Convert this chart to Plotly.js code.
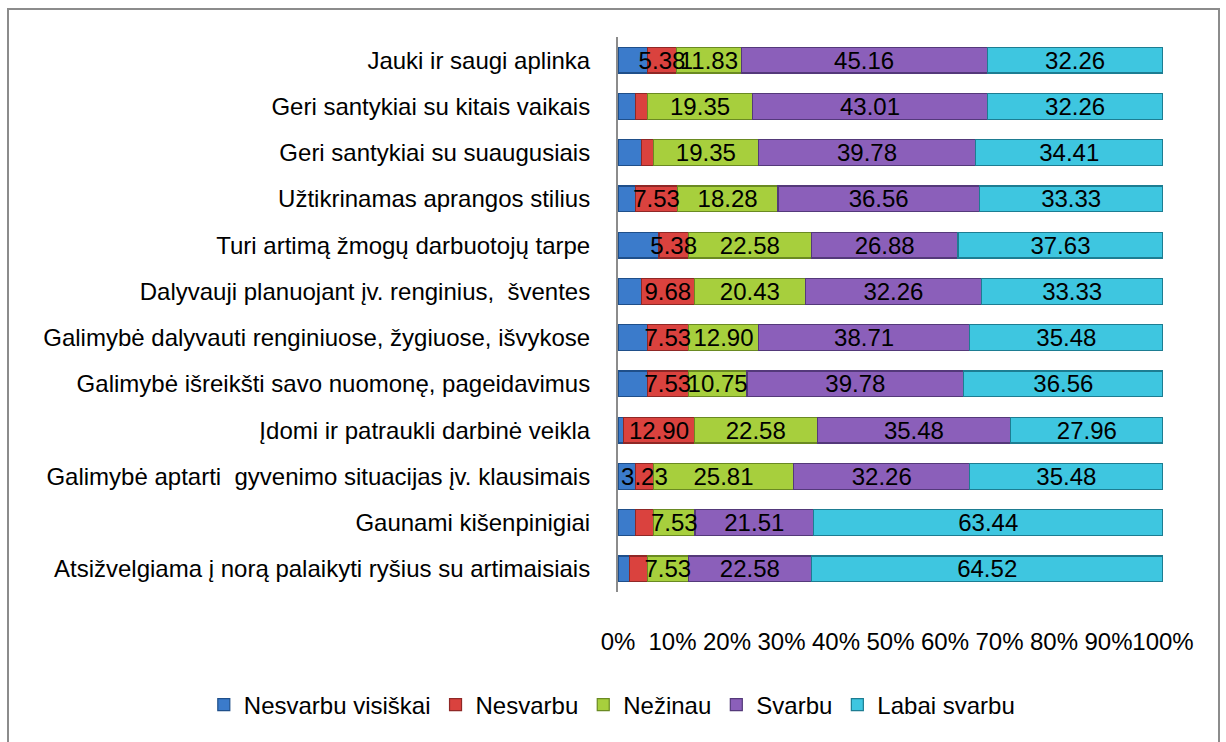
<!DOCTYPE html>
<html>
<head>
<meta charset="utf-8">
<script src="https://cdn.plot.ly/plotly-3.0.1.min.js"></script>
<style>
  html, body { margin: 0; padding: 0; background: #fff; }
  #chart { width: 1226px; height: 742px; }
  #frame { position: absolute; left: 7px; top: 8px; width: 1213px; height: 800px;
           border: 2px solid #8c8c8c; pointer-events: none; box-sizing: border-box; }
</style>
</head>
<body>
<div id="chart"></div>
<div id="frame"></div>
<script>
// Categories, top to bottom
const categories = [
  "Jauki ir saugi aplinka",
  "Geri santykiai su kitais vaikais",
  "Geri santykiai su suaugusiais",
  "Užtikrinamas aprangos stilius",
  "Turi artimą žmogų darbuotojų tarpe",
  "Dalyvauji planuojant įv. renginius,  šventes",
  "Galimybė dalyvauti renginiuose, žygiuose, išvykose",
  "Galimybė išreikšti savo nuomonę, pageidavimus",
  "Įdomi ir patraukli darbinė veikla",
  "Galimybė aptarti  gyvenimo situacijas įv. klausimais",
  "Gaunami kišenpinigiai",
  "Atsižvelgiama į norą palaikyti ryšius su artimaisiais"
];

const seriesNames = ["Nesvarbu visiškai", "Nesvarbu", "Nežinau", "Svarbu", "Labai svarbu"];

const nesvarbuVisiskai = [5.38, 3.23, 4.30, 3.23, 7.53, 4.30, 5.38, 5.38, 1.08, 3.23, 3.23, 2.15];
const nesvarbu         = [5.38, 2.15, 2.15, 7.53, 5.38, 9.68, 7.53, 7.53, 12.90, 3.23, 3.23, 3.23];
const nezinau          = [11.83, 19.35, 19.35, 18.28, 22.58, 20.43, 12.90, 10.75, 22.58, 25.81, 7.53, 7.53];
const svarbu           = [45.16, 43.01, 39.78, 36.56, 26.88, 32.26, 38.71, 39.78, 35.48, 32.26, 21.51, 22.58];
const labaiSvarbu      = [32.26, 32.26, 34.41, 33.33, 37.63, 33.33, 35.48, 36.56, 27.96, 35.48, 63.44, 64.52];

// Which data labels are displayed in the original (1 = shown)
const labelShownVisiskai = [0,0,0,0,0,0,0,0,0,0,0,0];
const labelShownNesvarbu = [1,0,0,1,1,1,1,1,1,1,0,0];
const labelShownOther    = [1,1,1,1,1,1,1,1,1,1,1,1];

const tickValues = [0,10,20,30,40,50,60,70,80,90,100];

const fills  = ["#3B7BCB", "#DA423E", "#A7CF3D", "#8B5FBA", "#3EC6E0"];
const edges  = ["#1f4f8a", "#8f2826", "#6a8a22", "#54397a", "#1d7d92"];

const allValues = [nesvarbuVisiskai, nesvarbu, nezinau, svarbu, labaiSvarbu];
const allShown  = [labelShownVisiskai, labelShownNesvarbu, labelShownOther, labelShownOther, labelShownOther];

const FONT = "'Liberation Sans', Arial, sans-serif";
const FS = 24;

// Visible bars
const barTraces = allValues.map((vals, i) => ({
  type: "bar",
  orientation: "h",
  name: seriesNames[i],
  y: categories,
  x: vals,
  xaxis: "x",
  yaxis: "y",
  marker: { color: fills[i], line: { color: edges[i], width: 1.2 } },
  hoverinfo: "skip"
}));

// Data labels drawn on an overlaid axis so they sit above every bar
const labelTraces = allValues.map((vals, i) => ({
  type: "bar",
  orientation: "h",
  name: seriesNames[i] + " (labels)",
  showlegend: false,
  y: categories,
  x: vals,
  xaxis: "x",
  yaxis: "y2",
  text: vals.map((v, j) => allShown[i][j] ? v.toFixed(2) : ""),
  texttemplate: "%{text}",
  textposition: "inside",
  insidetextanchor: "middle",
  constraintext: "none",
  textangle: 0,
  insidetextfont: { family: FONT, size: FS, color: "#000" },
  marker: { color: "rgba(0,0,0,0)", line: { width: 0 } },
  hoverinfo: "skip"
}));

const layout = {
  width: 1226,
  height: 742,
  barmode: "stack",
  barnorm: "percent",
  bargap: 0.44,
  paper_bgcolor: "#fff",
  plot_bgcolor: "#fff",
  font: { family: FONT, size: FS, color: "#000" },
  margin: { l: 618, r: 63, t: 37, b: 150 },
  xaxis: {
    range: [0, 100],
    tickvals: tickValues,
    ticktext: tickValues.map(v => v + "%"),
    tickangle: 0,
    showgrid: false,
    zeroline: false,
    showline: false,
    ticks: "",
    ticklabelstandoff: 33,
    tickfont: { family: FONT, size: FS, color: "#000" },
    fixedrange: true
  },
  yaxis: {
    type: "category",
    autorange: "reversed",
    showgrid: false,
    zeroline: false,
    showline: true,
    linecolor: "#8c8c8c",
    linewidth: 2,
    ticks: "",
    ticklabelstandoff: 21,
    tickfont: { family: FONT, size: FS, color: "#000" },
    fixedrange: true
  },
  yaxis2: {
    type: "category",
    overlaying: "y",
    matches: "y",
    autorange: "reversed",
    visible: false,
    fixedrange: true
  },
  showlegend: true,
  legend: {
    orientation: "h",
    xref: "paper",
    yref: "paper",
    x: -0.760,
    xanchor: "left",
    y: -0.2036,
    yanchor: "middle",
    traceorder: "normal",
    font: { family: FONT, size: FS, color: "#000" },
    bgcolor: "rgba(0,0,0,0)"
  }
};

Plotly.newPlot("chart", barTraces.concat(labelTraces), layout, { displayModeBar: false, staticPlot: true });
</script>
</body>
</html>
